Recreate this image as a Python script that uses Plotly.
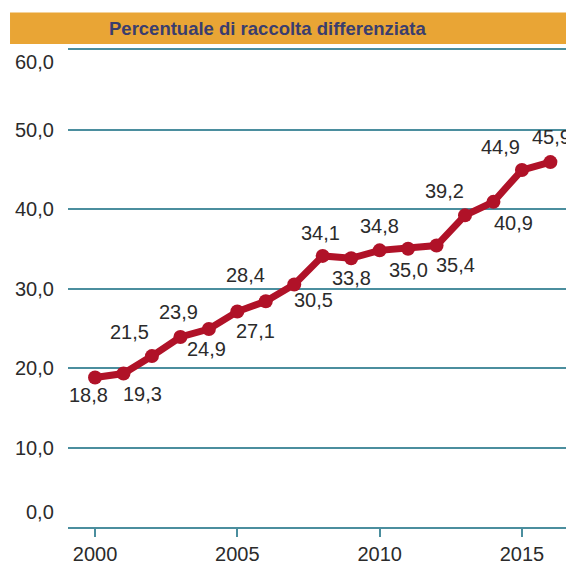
import plotly.graph_objects as go

years = [2000, 2001, 2002, 2003, 2004, 2005, 2006, 2007, 2008, 2009, 2010, 2011, 2012, 2013, 2014, 2015, 2016]
values = [18.8, 19.3, 21.5, 23.9, 24.9, 27.1, 28.4, 30.5, 34.1, 33.8, 34.8, 35.0, 35.4, 39.2, 40.9, 44.9, 45.9]
y_ticks = [0, 10, 20, 30, 40, 50, 60]
y_tick_labels = ["0,0", "10,0", "20,0", "30,0", "40,0", "50,0", "60,0"]
x_ticks = [2000, 2005, 2010, 2015]
title_text = "Percentuale di raccolta differenziata"

# label offsets in pixels (style only)
label_dx = [-7, 19, -22, -2, -2, 18, -20, 19, -2, 0, 0, 0, 19, -21, 20, -21, 1]
label_dy = [17, 20, -24, -25, 20, 19, -26, 15, -23, 20, -24, 21, 19, -24, 21, -23, -25]

LINE = "#B01228"
GRID = "#4B8E9E"
TXT = "#2B2B2B"
FONT = "Liberation Sans, Arial, sans-serif"

fig = go.Figure()
fig.add_trace(go.Scatter(
    x=years, y=values, mode="lines+markers",
    line=dict(color=LINE, width=7),
    marker=dict(color=LINE, size=14),
    hoverinfo="skip", showlegend=False, cliponaxis=False,
))

annotations = []
for x, v, dx, dy in zip(years, values, label_dx, label_dy):
    annotations.append(dict(
        x=x, y=v, xref="x", yref="y", text=f"{v:.1f}".replace(".", ","),
        showarrow=False, xshift=dx, yshift=-dy,
        font=dict(family=FONT, size=20, color=TXT),
    ))

for t, lab in zip(y_ticks, y_tick_labels):
    ys = 0
    if t == y_ticks[-1]:
        ys = -12
    elif t == y_ticks[0]:
        ys = 15
    annotations.append(dict(
        x=0, y=t, xref="paper", yref="y", text=lab, showarrow=False,
        xanchor="right", xshift=-12, yshift=ys,
        font=dict(family=FONT, size=20, color=TXT),
    ))

annotations.append(dict(
    x=0.395, y=1.0456, xref="paper", yref="paper", text=f"<b>{title_text}</b>",
    showarrow=False, xanchor="center", yanchor="middle",
    font=dict(family=FONT, size=18.5, color="#3A3D6E"),
))

fig.update_layout(
    width=566, height=557,
    margin=dict(l=60, r=0, t=42, b=33),
    paper_bgcolor="white", plot_bgcolor="white",
    font=dict(family=FONT, size=20, color=TXT),
    annotations=annotations,
    shapes=[dict(
        type="rect", xref="paper", yref="paper",
        x0=-0.1146, x1=1.0, y0=1.0124, y1=1.0788,
        fillcolor="#E9A535", line=dict(width=0), layer="below",
    )],
    xaxis=dict(
        range=[1999.05, 2016.83], tickvals=x_ticks, showgrid=False,
        zeroline=False, showline=True, mirror=True, linecolor=GRID, linewidth=2,
        ticks="outside", ticklen=8, tickwidth=2, tickcolor=GRID,
        tickfont=dict(family=FONT, size=20, color=TXT),
    ),
    yaxis=dict(
        range=[0, 60], tickvals=y_ticks, showticklabels=False,
        showgrid=True, gridcolor=GRID, gridwidth=2,
        zeroline=False, showline=False,
    ),
)

fig.write_html("out.html")
